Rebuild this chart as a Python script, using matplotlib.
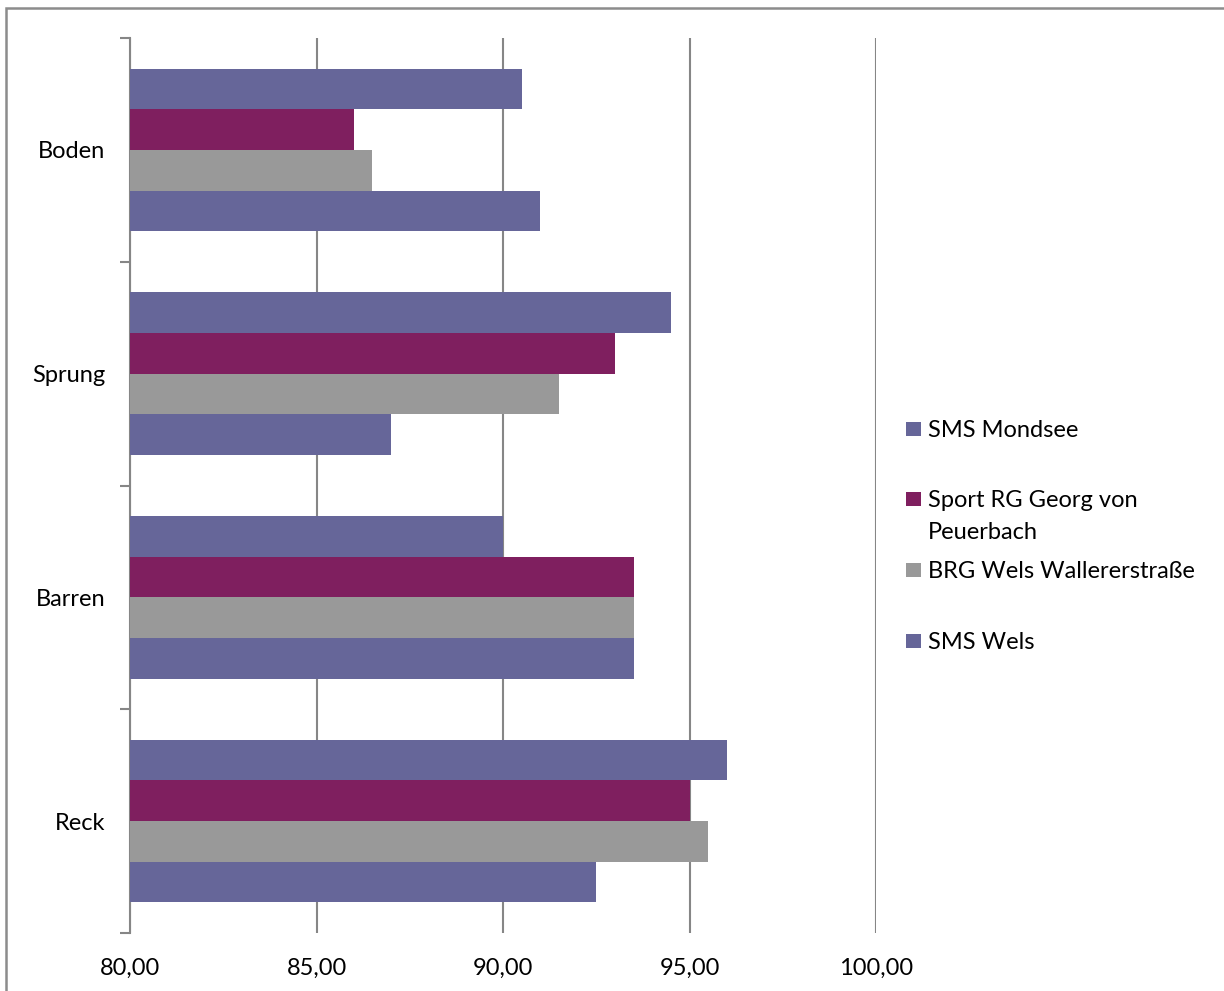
import matplotlib
matplotlib.use("Agg")
import matplotlib.pyplot as plt
from matplotlib.patches import Rectangle
import numpy as np

plt.rcParams['font.family'] = ['Lato', 'DejaVu Sans']

categories = ["Boden", "Sprung", "Barren", "Reck"]
series_names = ["SMS Mondsee", "Sport RG Georg von\nPeuerbach", "BRG Wels Wallererstraße", "SMS Wels"]
series_values = [
    [90.5, 94.5, 90.0, 96.0],
    [86.0, 93.0, 93.5, 95.0],
    [86.5, 91.5, 93.5, 95.5],
    [91.0, 87.0, 93.5, 92.5],
]
colors = ["#666699", "#7F1F5F", "#999999", "#666699"]
xticks = [80, 85, 90, 95, 100]
xtick_labels = ["80,00", "85,00", "90,00", "95,00", "100,00"]

FS = 17
W, H = 1224, 991
fig = plt.figure(figsize=(W / 100, H / 100), dpi=100)
ax = fig.add_axes([130 / W, 1 - 933 / H, (876 - 130) / W, (933 - 38) / H])

n = len(series_names)
h = 1.0 / (n + 1.5)
y = np.arange(len(categories))
base = 80
for k in range(n):
    vals = np.array(series_values[k])
    ax.barh(y + (k - (n - 1) / 2) * h, vals - base, left=base, height=h,
            color=colors[k], edgecolor="none", zorder=3)

ax.set_xlim(80, 100)
ax.set_ylim(len(categories) - 0.5, -0.5)
ax.set_xticks(xticks)
ax.set_xticklabels(xtick_labels, fontsize=FS)
ax.set_yticks(y)
ax.set_yticklabels(categories, fontsize=FS)
ax.set_yticks(np.arange(len(categories) + 1) - 0.5, minor=True)
ax.tick_params(axis='y', which='major', length=0, pad=18)
ax.tick_params(axis='y', which='minor', length=7, width=1.5, color="#868686")
ax.tick_params(axis='x', which='major', length=0, pad=18)
for s in ["top", "right", "bottom"]:
    ax.spines[s].set_visible(False)
ax.spines["left"].set_color("#868686")
ax.spines["left"].set_linewidth(1.5)
ax.xaxis.grid(True, color="#868686", linewidth=1.5, zorder=0)
ax.set_axisbelow(True)

# legend (manual, following Excel layout)
legend_y = [429, 499, 570, 641]
for k in range(n):
    yc = legend_y[k]
    fig.add_artist(Rectangle((906 / W, 1 - (yc + 7) / H), 15 / W, 14 / H,
                             transform=fig.transFigure, facecolor=colors[k],
                             edgecolor="none"))
    fig.text(928 / W, 1 - (yc - 9) / H, series_names[k], fontsize=FS,
             va="top", ha="left", linespacing=1.66)

# figure border
fig.add_artist(Rectangle((6 / W, -0.1), 1.2, 1 - 8 / H + 0.1, transform=fig.transFigure,
                         facecolor="none", edgecolor="#8c8c8c", linewidth=1.8))

fig.savefig("out.png", dpi=100)
